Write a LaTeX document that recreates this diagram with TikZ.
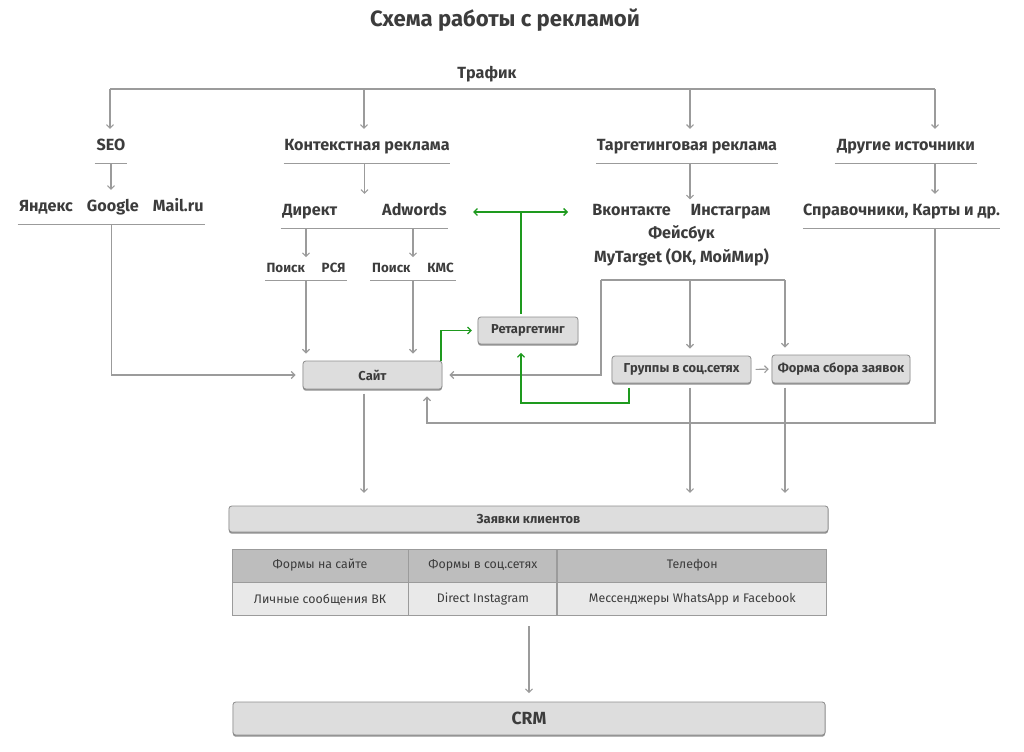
\documentclass[tikz,border=0pt]{standalone}
\usepackage{fontspec}
\setmainfont{Fira Sans}
\usetikzlibrary{positioning,arrows.meta,shadows}
\definecolor{txt}{HTML}{3C3C3C}
\definecolor{ln}{HTML}{9B9B9B}
\definecolor{bx}{HTML}{DDDDDD}
\definecolor{bxd}{HTML}{8F8F8F}
\definecolor{hdr}{HTML}{BDBDBD}
\definecolor{rw}{HTML}{E9E9E9}
\definecolor{grn}{HTML}{1E9A1E}

\begin{document}
\begin{tikzpicture}[x=0.025cm,y=-0.025cm,>={Straight Barb[length=2.5pt,width=5pt]},
  conn/.style={draw=ln,line width=0.8pt},
  arr/.style={conn,->},
  barr/.style={arr,shorten >=5pt},
  zarr/.style={arr,shorten <=3pt,shorten >=9pt},
  gline/.style={draw=grn,line width=0.9pt},
  garr/.style={gline,->},
  grp/.style={text=txt,font=\bfseries\fontsize{11.5}{13}\selectfont,text height=8.5pt,text depth=2.5pt,inner xsep=0pt,inner ysep=6.5pt},
  subgrp/.style={text=txt,font=\bfseries\fontsize{9.5}{11}\selectfont,text height=7pt,text depth=2pt,inner xsep=0pt,inner ysep=3.75pt},
  box/.style={draw=bxd,fill=bx,rounded corners=2pt,line width=0.6pt,text=txt,font=\bfseries\fontsize{9.2}{11}\selectfont,drop shadow={shadow xshift=0pt,shadow yshift=-1.2pt,fill=bxd,opacity=1}},
  cell/.style={draw=ln,line width=0.6pt,text=txt,font=\fontsize{8.8}{10}\selectfont,minimum height=0.825cm,inner sep=0pt}]
  \useasboundingbox (0,0) rectangle (1024,751);

  \node[text=txt,font=\bfseries\fontsize{15.75}{18}\selectfont] (title) at (505,20) {Схема работы с рекламой};
  \node[grp] (traf) at (487,74) {Трафик};
  \coordinate (c1) at (110,89);
  \coordinate (c2) at (364,89);
  \coordinate (c3) at (690,89);
  \coordinate (c4) at (935,89);

  \node[grp,minimum width=0.8cm] (seo) at (111,146) {SEO};
  \node[grp,minimum width=4.15cm] (ctx) at (367,146) {Контекстная реклама};
  \node[grp,minimum width=4.525cm] (tgt) at (687,146) {Таргетинговая реклама};
  \node[grp,minimum width=3.55cm] (oth) at (906,146) {Другие источники};
  \node[grp,minimum width=4.675cm] (yam) at (111.5,207) {Яндекс\hspace{10pt}Google\hspace{10pt}Mail.ru};
  \node[grp,minimum width=4.175cm] (dir) at (364.5,211) {Директ\hspace{32pt}Adwords};
  \node[text=txt,font=\bfseries\fontsize{11.5}{16.5}\selectfont,align=center] (soc) at (681.5,235) {Вконтакте\hspace{14pt}Инстаграм\\Фейсбук\\MyTarget (ОК, МойМир)};
  \node[grp,minimum width=4.675cm] (ref) at (901.5,211) {Справочники, Карты и др.};
  \node[subgrp,minimum width=2.025cm] (p1) at (306,269) {Поиск\hspace{12pt}РСЯ};
  \node[subgrp,minimum width=2.125cm] (p2) at (413,269) {Поиск\hspace{12pt}КМС};

  \node[box,minimum width=3.475cm,minimum height=0.7cm] (site) at (372.5,375) {Сайт};
  \node[box,minimum width=2.5cm,minimum height=0.675cm] (ret) at (528,330.5) {Ретаргетинг};
  \node[box,minimum width=3.475cm,minimum height=0.675cm] (grpb) at (681.5,369.5) {Группы в соц.сетях};
  \node[box,minimum width=3.45cm,minimum height=0.7cm] (form) at (841,369) {Форма сбора заявок};
  \node[box,minimum width=14.975cm,minimum height=0.65cm] (zay) at (528.5,519) {Заявки клиентов};
  \node[box,minimum width=14.8cm,minimum height=0.825cm,font=\bfseries\fontsize{12.5}{14}\selectfont] (crm) at (529,718.5) {CRM};

  \node[cell,fill=hdr,minimum width=4.4cm] (h1) at (320,565.5) {Формы на сайте};
  \node[cell,fill=hdr,minimum width=3.7cm,right=0pt of h1] (h2) {Формы в соц.сетях};
  \node[cell,fill=hdr,minimum width=6.725cm,right=0pt of h2] (h3) {Телефон};
  \node[cell,fill=rw,minimum width=4.4cm,below=0pt of h1] (r1) {Личные сообщения ВК};
  \node[cell,fill=rw,minimum width=3.7cm,below=0pt of h2] (r2) {Direct Instagram};
  \node[cell,fill=rw,minimum width=6.725cm,below=0pt of h3] (r3) {Мессенджеры WhatsApp и Facebook};

  \foreach \n in {seo,ctx,tgt,oth,yam,dir,ref,p1,p2}
    \draw[conn] (\n.south west) -- (\n.south east);
  \draw[conn] (c1) -- (c4);
  \foreach \c/\n in {c1/seo,c2/ctx,c3/tgt,c4/oth}
    \draw[arr] (\c) -- (\c |- \n.north);
  \draw[arr] (seo.south) -- (seo.south |- yam.north);
  \draw[arr] (dir.north |- ctx.south) -- (dir.north);
  \draw[arr] (c3 |- tgt.south) -- (c3 |- soc.north);
  \draw[arr] (c4 |- oth.south) -- (c4 |- ref.north);
  \draw[arr] (dir.south -| p1.north) -- (p1.north);
  \draw[arr] (dir.south -| p2.north) -- (p2.north);

  \draw[barr] (yam.south) |- (site.west);
  \draw[barr] (p1.south) -- (p1.south |- site.north);
  \draw[barr] (p2.south) -- (p2.south |- site.north);
  \coordinate (sl) at (601,280);
  \coordinate (sm) at (690,280);
  \coordinate (sr) at (785,280);
  \draw[conn] (sl) -- (sr);
  \draw[barr] (sl) |- (site.east);
  \draw[barr] (sm) -- (sm |- grpb.north);
  \draw[barr] (sr) -- (sr |- form.north);
  \draw[arr,shorten <=3pt,shorten >=2pt] (grpb.east) -- (form.west);
  \coordinate (rb) at (427,423);
  \draw[barr] (c4 |- ref.south) |- (rb) -- (rb |- site.south);
  \draw[zarr] (site.south -| c2) -- (c2 |- zay.north);
  \draw[zarr] (grpb.south -| c3) -- (c3 |- zay.north);
  \draw[zarr] (form.south -| sr) -- (sr |- zay.north);
  \draw[arr,shorten <=7pt,shorten >=6pt] (r2.south -| crm.north) -- (crm.north);

  \coordinate (gj) at (521,212);
  \coordinate (gl) at (473,212);
  \coordinate (gr) at (568,212);
  \coordinate (gq) at (629,403);
  \draw[garr,shorten >=4pt] ([xshift=-1pt]site.north east) |- (ret.west);
  \draw[gline,shorten <=2pt] (ret.north -| gj) -- (gj);
  \draw[garr] (gj) -- (gl);
  \draw[garr] (gj) -- (gr);
  \draw[garr,shorten <=3pt,shorten >=6pt] (grpb.south -| gq) -- (gq) -| (ret.south -| gj);
\end{tikzpicture}
\end{document}
